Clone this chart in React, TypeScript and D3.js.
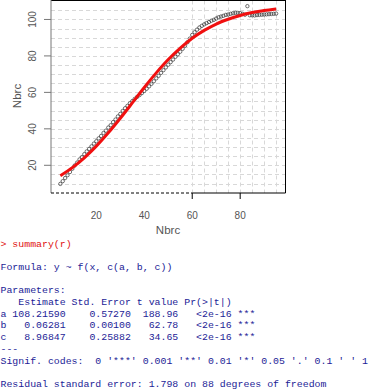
import { useEffect, useRef } from 'react';
import * as d3 from 'd3';

const W = 371
const H = 391
// plot box in pixels
const box = { left: 51, right: 285.5, top: 0.5, bottom: 193 }

// observed points, x = 5..95
const xs = d3.range(5, 96)
const ys = [
  9.8, 11.3, 13.0, 14.6, 16.3, 18.1, 19.9, 21.5, 23.2, 24.5,
  26.1, 27.6, 29.0, 30.4, 31.9, 33.2, 34.8, 36.1, 37.7, 39.0,
  40.7, 42.0, 43.7, 45.1, 46.8, 48.2, 49.8, 51.3, 52.6, 54.0,
  55.2, 56.4, 57.5, 58.5, 59.6, 60.8, 62.0, 63.3, 64.7, 66.1,
  67.7, 69.1, 70.7, 72.2, 73.7, 75.2, 76.6, 78.0, 79.5, 80.9,
  82.3, 83.9, 85.6, 87.5, 89.5, 91.5, 93.0, 94.4, 95.6, 96.5,
  97.3, 98.0, 98.6, 99.3, 99.8, 100.5, 101.2, 101.6, 102.0, 102.5,
  102.7, 103.1, 103.4, 103.6, 103.6, 103.5, 103.1, 102.6, 107.3, 102.3,
  102.3, 102.2, 102.4, 102.5, 102.6, 102.7, 102.8, 102.9, 103.0, 103.1,
  103.2,
]

// fitted curve, read every 5 units
const fitX = [5, 10, 15, 20, 25, 30, 35, 40, 45, 50, 55, 60, 65, 70, 75, 80, 85, 90, 95]
const fitY = [14.3, 18.7, 24.1, 30.5, 37.8, 45.8, 54.2, 62.7, 70.7, 78.0, 84.3, 89.7, 94.0, 97.5, 100.1, 102.2, 103.8, 104.9, 105.8]

const xTicks = [20, 40, 60, 80]
const xTickMarks = [60, 80]
const yTicks = [20, 40, 60, 80, 100]
const hGrid = d3.range(10, 106, 5)
const vGrid = d3.range(60, 96, 5)

const consoleLines: [string, string][] = [
  ['> summary(r)', 'red'],
  ['', ''],
  ['Formula: y ~ f(x, c(a, b, c))', 'blue'],
  ['', ''],
  ['Parameters:', 'blue'],
  ['   Estimate Std. Error t value Pr(>|t|)', 'blue'],
  ['a 108.21590    0.57270  188.96   <2e-16 ***', 'blue'],
  ['b   0.06281    0.00100   62.78   <2e-16 ***', 'blue'],
  ['c   8.96847    0.25882   34.65   <2e-16 ***', 'blue'],
  ['---', 'blue'],
  ["Signif. codes:  0 '***' 0.001 '**' 0.01 '*' 0.05 '.' 0.1 ' ' 1", 'blue'],
  ['', ''],
  ['Residual standard error: 1.798 on 88 degrees of freedom', 'blue'],
]

const App = () => {
  const ref = useRef(null)

  useEffect(() => {
    if (!ref.current) return
    const svg = d3.select(ref.current)
    svg.selectAll('*').remove()

    const x = d3.scaleLinear().domain([1.1, 98.9]).range([box.left, box.right])
    const y = d3.scaleLinear().domain([4.8, 110.4]).range([box.bottom, box.top])

    const grid = svg.append('g')
      .attr('stroke', '#d8d8d8')
      .attr('stroke-dasharray', '4,3')
    grid.selectAll('.hg').data(hGrid).enter().append('line')
      .attr('x1', box.left).attr('x2', box.right)
      .attr('y1', d => Math.round(y(d)) + 0.5).attr('y2', d => Math.round(y(d)) + 0.5)
    grid.selectAll('.vg').data(vGrid).enter().append('line')
      .attr('y1', box.top).attr('y2', box.bottom)
      .attr('x1', d => Math.round(x(d)) + 0.5).attr('x2', d => Math.round(x(d)) + 0.5)

    // box
    svg.append('line').attr('x1', box.left).attr('x2', box.right).attr('y1', box.top).attr('y2', box.top).attr('stroke', '#000')
    svg.append('line').attr('x1', box.right).attr('x2', box.right).attr('y1', 0).attr('y2', box.bottom).attr('stroke', '#000')
    svg.append('line').attr('x1', box.left).attr('x2', box.left).attr('y1', 0).attr('y2', box.bottom).attr('stroke', '#777')
    svg.append('line').attr('x1', box.left).attr('x2', x(60)).attr('y1', box.bottom).attr('y2', box.bottom)
      .attr('stroke', '#000').attr('stroke-dasharray', '3,2')
    svg.append('line').attr('x1', x(60)).attr('x2', box.right).attr('y1', box.bottom).attr('y2', box.bottom).attr('stroke', '#000')

    // y axis
    const yAx = svg.append('g')
    yAx.selectAll('line').data(yTicks).enter().append('line')
      .attr('x1', box.left - 7).attr('x2', box.left)
      .attr('y1', d => y(d)).attr('y2', d => y(d))
      .attr('stroke', '#777')
    yAx.selectAll('text').data(yTicks).enter().append('text')
      .attr('transform', d => `translate(36,${y(d)}) rotate(-90)`)
      .attr('text-anchor', 'middle')
      .attr('font-family', 'Liberation Sans, Arial, sans-serif')
      .attr('font-size', 10)
      .attr('fill', '#555')
      .text(d => d)

    // x axis
    svg.append('g').selectAll('line').data(xTickMarks).enter().append('line')
      .attr('x1', d => x(d)).attr('x2', d => x(d))
      .attr('y1', box.bottom).attr('y2', box.bottom + 6)
      .attr('stroke', '#000')
    svg.append('g').selectAll('text').data(xTicks).enter().append('text')
      .attr('x', d => x(d)).attr('y', 219)
      .attr('text-anchor', 'middle')
      .attr('font-family', 'Liberation Sans, Arial, sans-serif')
      .attr('font-size', 10)
      .attr('fill', '#555')
      .text(d => d)

    svg.append('text')
      .attr('x', 168).attr('y', 234)
      .attr('text-anchor', 'middle')
      .attr('font-family', 'Liberation Sans, Arial, sans-serif')
      .attr('font-size', 11.5)
      .attr('fill', '#555')
      .text('Nbrc')
    svg.append('text')
      .attr('transform', `translate(20.5,96) rotate(-90)`)
      .attr('text-anchor', 'middle')
      .attr('font-family', 'Liberation Sans, Arial, sans-serif')
      .attr('font-size', 11.5)
      .attr('fill', '#555')
      .text('Nbrc')

    // points
    svg.append('g').selectAll('circle').data(xs).enter().append('circle')
      .attr('cx', d => x(d))
      .attr('cy', (d, i) => y(ys[i]))
      .attr('r', 1.7)
      .attr('fill', 'none')
      .attr('stroke', '#333')
      .attr('stroke-width', 0.7)

    // fitted line
    const line = d3.line<number>()
      .x(d => x(d))
      .y((d, i) => y(fitY[i]))
      .curve(d3.curveMonotoneX)
    svg.append('path')
      .attr('d', line(fitX))
      .attr('fill', 'none')
      .attr('stroke', '#f01010')
      .attr('stroke-width', 3)

    // console output, spaces kept as nbsp so the columns line up
    const txt = svg.append('g')
      .attr('font-family', 'Liberation Mono, Courier New, monospace')
      .attr('font-size', 9.9)
    txt.selectAll('text').data(consoleLines).enter().append('text')
      .attr('x', 0.5)
      .attr('y', (d, i) => 246.5 + i * 11.7)
      .attr('fill', d => d[1] === 'red' ? '#e01010' : '#1c1c96')
      .text(d => d[0].replace(/ /g, '\u00a0'))
  }, [])

  return (
    <svg
      width={W}
      height={H}
      ref={ref}
      style={{ position: 'absolute', left: 0, top: 0, background: '#fff' }}
    ></svg>
  )
}

export default App;
